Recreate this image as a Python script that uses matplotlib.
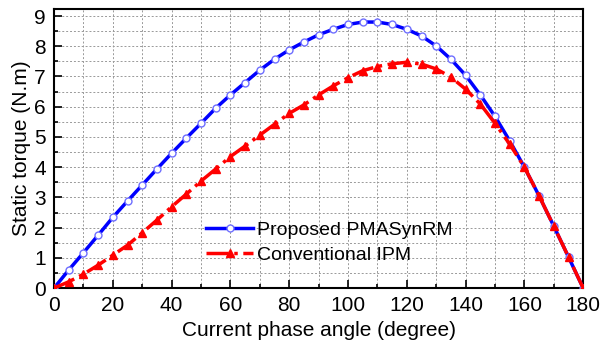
import matplotlib
matplotlib.use("Agg")
import matplotlib.pyplot as plt
import numpy as np
from matplotlib.ticker import MultipleLocator

plt.rcParams['font.family'] = ['Liberation Sans', 'DejaVu Sans']

angle = np.arange(0, 181, 5)
proposed = [0, 0.60, 1.17, 1.75, 2.34, 2.88, 3.41, 3.94, 4.46, 4.96, 5.45, 5.95,
            6.39, 6.80, 7.21, 7.57, 7.88, 8.14, 8.38, 8.56, 8.72, 8.80, 8.80, 8.72,
            8.56, 8.34, 8.01, 7.57, 7.04, 6.39, 5.68, 4.87, 4.00, 3.05, 2.05, 1.03, 0]
conventional = [0, 0.21, 0.46, 0.76, 1.09, 1.42, 1.83, 2.25, 2.69, 3.11, 3.54, 3.94,
                4.35, 4.70, 5.06, 5.42, 5.78, 6.06, 6.39, 6.69, 6.96, 7.19, 7.33, 7.42,
                7.47, 7.41, 7.25, 6.98, 6.58, 6.09, 5.45, 4.76, 4.00, 3.05, 2.05, 1.03, 0]

fig = plt.figure(figsize=(6, 3.48), dpi=100)
ax = fig.add_axes([0.09, 0.172, 0.882, 0.802])

ax.plot(angle, proposed, color="blue", lw=2.5, marker="o", ms=5,
        mfc="white", mec="#6f6fff", mew=1.0, label="Proposed PMASynRM", zorder=3)
ax.plot(angle, conventional, color="red", lw=2.5, ls="-.", marker="^", ms=5.5,
        mfc="red", mec="red", label="Conventional IPM", zorder=4)

ax.set_xlim(0, 180)
ax.set_ylim(0, 9.23)
ax.xaxis.set_major_locator(MultipleLocator(20))
ax.xaxis.set_minor_locator(MultipleLocator(10))
ax.yaxis.set_major_locator(MultipleLocator(1))
ax.yaxis.set_minor_locator(MultipleLocator(0.5))
ax.grid(which="both", ls=(0, (2, 2)), color="#999999", lw=0.7)
ax.tick_params(which="both", direction="in", labelsize=15, width=1.2)
ax.tick_params(which="major", length=6, pad=6)
ax.tick_params(which="minor", length=3)
for s in ax.spines.values():
    s.set_linewidth(1.5)

ax.set_xlabel("Current phase angle (degree)", fontsize=15, labelpad=4)
ax.set_ylabel("Static torque (N.m)", fontsize=15, labelpad=2)

ax.legend(loc="lower left", bbox_to_anchor=(0.255, 0.025), frameon=False,
          fontsize=14, handlelength=2.4, handletextpad=0.2, labelspacing=0.35)

fig.savefig("out.png", dpi=100)
